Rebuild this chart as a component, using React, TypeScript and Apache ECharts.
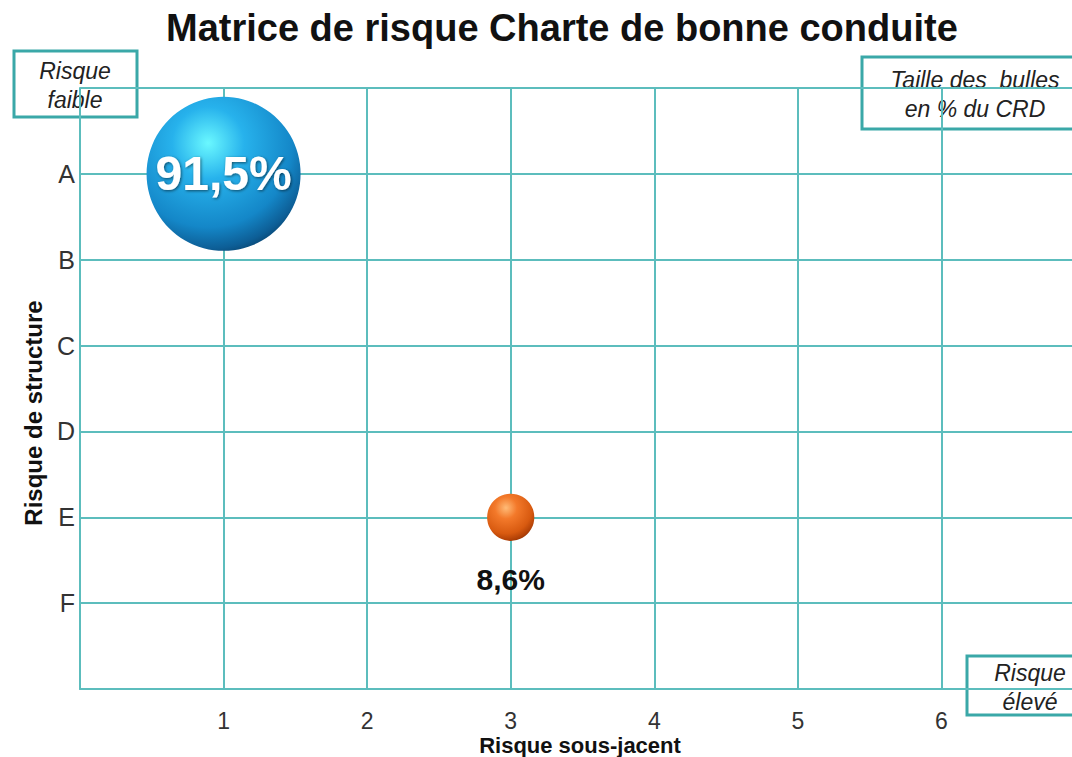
import React, { useEffect, useRef } from "react";
import * as echarts from "echarts";

const chartTitle = "Matrice de risque Charte de bonne conduite";
const xAxisName = "Risque sous-jacent";
const yAxisName = "Risque de structure";
const xTickLabels = ["", "1", "2", "3", "4", "5", "6", ""];
const yTickLabels = ["", "A", "B", "C", "D", "E", "F", ""];
const bubbleX = [1, 3];
const bubbleY = [1, 5];
const bubbleShare = [91.5, 8.6];
const bubbleText = ["91,5%", "8,6%"];
const cornerNotes = ["Risque\nfaible", "Taille des  bulles\nen % du CRD", "Risque\nélevé"];

const FONT = "'Liberation Sans', Arial, Helvetica, sans-serif";
const TEAL = "#5cbdbd";
const BOX = "#3aa8a8";

export default function App() {
  const ref = useRef<HTMLDivElement>(null);
  useEffect(() => {
    if (!ref.current) return;
    const chart = echarts.init(ref.current, null, { renderer: "svg" });

    const blue = new echarts.graphic.RadialGradient(0.4, 0.3, 0.78, [
      { offset: 0, color: "#6af8ff" },
      { offset: 0.3, color: "#27b2ec" },
      { offset: 0.7, color: "#1487c8" },
      { offset: 0.88, color: "#0d5e96" },
      { offset: 1, color: "#06365a" },
    ]);
    const orange = new echarts.graphic.RadialGradient(0.4, 0.3, 0.78, [
      { offset: 0, color: "#ffbb77" },
      { offset: 0.3, color: "#f3792a" },
      { offset: 0.7, color: "#d85a10" },
      { offset: 0.88, color: "#b04006" },
      { offset: 1, color: "#7a2400" },
    ]);
    const fills = [blue, orange];

    const data = bubbleX.map((x, i) => ({
      value: [x, bubbleY[i], bubbleShare[i]],
      itemStyle: { color: fills[i] },
      label:
        i === 0
          ? {
              show: true,
              position: "inside",
              formatter: bubbleText[i],
              color: "#ffffff",
              fontSize: 48,
              fontWeight: "bold",
              fontFamily: FONT,
              textShadowColor: "rgba(0,0,0,0.55)",
              textShadowBlur: 3,
              textShadowOffsetX: 1,
              textShadowOffsetY: 1,
            }
          : {
              show: true,
              position: "bottom",
              distance: 24,
              formatter: bubbleText[i],
              color: "#111111",
              fontSize: 30,
              fontWeight: "bold",
              fontFamily: FONT,
            },
    }));

    const boxText = {
      fontFamily: FONT,
      fontStyle: "italic",
      fontSize: 23,
      lineHeight: 29,
      fill: "#222222",
      align: "center",
      verticalAlign: "middle",
    };

    const axisNameStyle = {
      fontFamily: FONT,
      fontSize: 22,
      lineHeight: 20,
      fontWeight: "bold",
      fill: "#111111",
      align: "center",
      verticalAlign: "middle",
    };

    chart.setOption({
      animation: false,
      backgroundColor: "#ffffff",
      title: {
        text: chartTitle,
        left: 161,
        top: 4,
        textStyle: { fontFamily: FONT, fontSize: 38, fontWeight: "bold", color: "#111111" },
      },
      grid: { left: 80, top: 88, bottom: 68, right: -13, outerBoundsMode: "none", containLabel: false },
      xAxis: {
        type: "value",
        min: 0,
        max: 7,
        interval: 1,
        axisLine: { show: true, onZero: false, lineStyle: { color: TEAL, width: 2 } },
        axisTick: { show: false },
        axisLabel: {
          margin: 21,
          fontFamily: FONT,
          fontSize: 23,
          lineHeight: 22,
          color: "#333333",
          formatter: (v: number) => xTickLabels[Math.round(v)] ?? "",
        },
        splitLine: { show: true, lineStyle: { color: TEAL, width: 2 } },
      },
      yAxis: {
        type: "value",
        inverse: true,
        min: 0,
        max: 7,
        interval: 1,
        axisLine: { show: true, onZero: false, lineStyle: { color: TEAL, width: 2 } },
        axisTick: { show: false },
        axisLabel: {
          margin: 5,
          fontFamily: FONT,
          fontSize: 25,
          color: "#333333",
          formatter: (v: number) => yTickLabels[Math.round(v)] ?? "",
        },
        splitLine: { show: true, lineStyle: { color: TEAL, width: 2 } },
      },
      series: [
        {
          type: "scatter",
          data,
          symbol: "circle",
          symbolSize: (val: number[]) => Math.sqrt(val[2]) * 16.1,
          itemStyle: { opacity: 1 },
        },
      ],
      graphic: [
        {
          type: "text",
          x: 580,
          y: 745,
          style: { ...axisNameStyle, text: xAxisName },
        },
        {
          type: "text",
          x: 33,
          y: 413,
          rotation: Math.PI / 2,
          style: { ...axisNameStyle, fontSize: 24, text: yAxisName },
        },
        {
          type: "group",
          children: [
            {
              type: "rect",
              shape: { x: 14, y: 51, width: 123, height: 66 },
              style: { fill: "#ffffff", stroke: BOX, lineWidth: 3 },
            },
            { type: "text", x: 75, y: 85, style: { ...boxText, text: cornerNotes[0] } },
          ],
        },
        {
          type: "group",
          children: [
            {
              type: "rect",
              shape: { x: 862, y: 57, width: 240, height: 72 },
              style: { fill: "#ffffff", stroke: BOX, lineWidth: 3 },
            },
            { type: "text", x: 975, y: 94, style: { ...boxText, text: cornerNotes[1] } },
          ],
        },
        {
          type: "group",
          children: [
            {
              type: "rect",
              shape: { x: 967, y: 656, width: 140, height: 59 },
              style: { fill: "#ffffff", stroke: BOX, lineWidth: 3 },
            },
            { type: "text", x: 1030, y: 687, style: { ...boxText, text: cornerNotes[2] } },
          ],
        },
      ],
    });
    return () => chart.dispose();
  }, []);
  return (
    <div
      ref={ref}
      style={{ position: "absolute", left: 0, top: 0, width: 1072, height: 757 }}
    />
  );
}
